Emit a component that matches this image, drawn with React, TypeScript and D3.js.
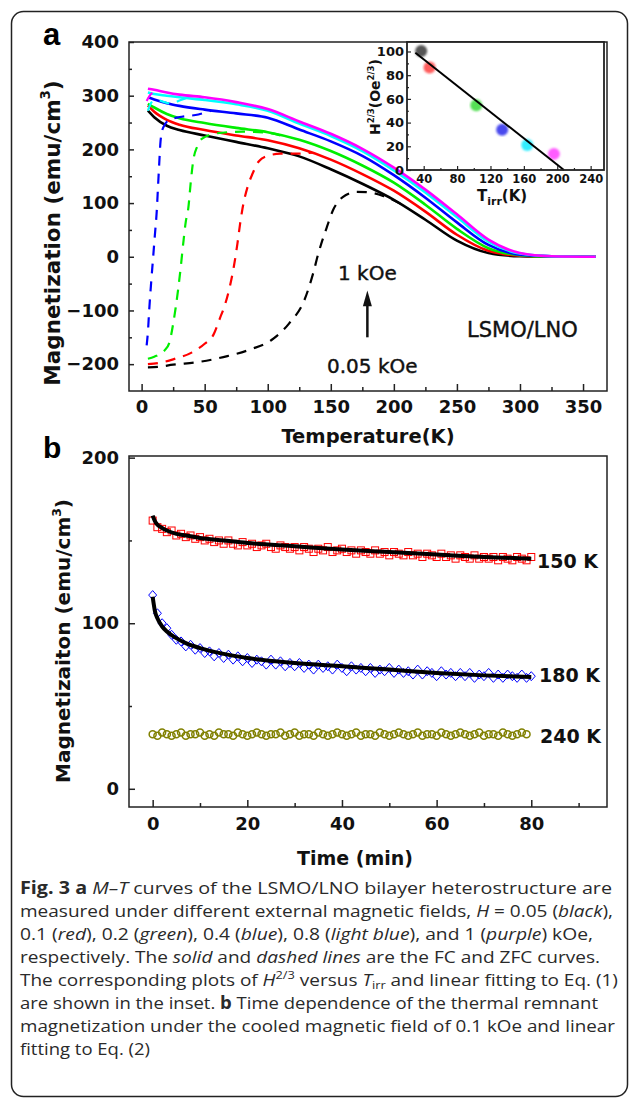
import React, { useEffect, useRef } from 'react';
import * as d3 from 'd3';

// ---------- panel a : M-T curves ----------
// FC curves (solid) on a common temperature grid (K), magnetization in emu/cm3
const fcTemp = [5, 10, 20, 30, 50, 75, 100, 125, 150, 175, 200, 225, 250, 275, 300, 325, 360];
const fcBlack = [272, 260, 244, 236, 226, 214, 202, 187, 163, 136, 106, 69, 30, 7, 1, 0, 0];
const fcRed = [282, 270, 255, 246, 236, 226, 217, 202, 181, 154, 123, 84, 41, 11, 2, 0, 0];
const fcGreen = [285, 278, 266, 258, 249, 240, 232, 218, 197, 170, 138, 97, 52, 16, 3, 0, 0];
const fcBlue = [297, 293, 286, 281, 274, 267, 259, 237, 215, 188, 152, 110, 64, 22, 4, 1, 0];
const fcCyan = [306, 303, 300, 297, 292, 284, 272, 248, 225, 197, 161, 120, 74, 28, 6, 1, 0];
const fcMagenta = [313, 311, 306, 302, 297, 288, 275, 252, 229, 201, 166, 125, 79, 32, 7, 1, 0];

// ZFC curves (dashed)
const zfcBlackT = [5, 13, 25, 45, 68, 87, 103, 117, 129, 136, 140, 147, 152, 157, 162, 170, 180, 192, 205];
const zfcBlackM = [-206, -205, -201, -196, -185, -172, -155, -124, -81, -31, 5, 56, 88, 106, 115, 121, 120, 113, 99];
const zfcRedT = [5, 13, 25, 40, 50, 57, 62, 66, 70, 73, 76, 78, 80, 84, 88, 93, 100, 110, 125, 135];
const zfcRedM = [-200, -198, -191, -178, -162, -145, -115, -90, -55, -20, 25, 60, 90, 130, 155, 178, 188, 192, 192, 194];
const zfcGreenT = [5, 10, 18, 22, 25, 27, 29, 31, 33, 35, 37, 39, 41, 44, 48, 60, 80, 100, 110];
const zfcGreenM = [-190, -186, -175, -160, -125, -95, -60, -20, 25, 65, 90, 140, 180, 205, 220, 230, 233, 231, 226];
const zfcBlueT = [4, 5, 6, 7.5, 9, 10.5, 12, 13, 14, 15, 17, 22, 30, 45, 55];
const zfcBlueM = [-165, -140, -100, -50, -5, 40, 85, 130, 175, 215, 240, 255, 260, 265, 272];
const zfcCyanT = [5, 8, 12, 18, 24, 30, 36];
const zfcCyanM = [272, 288, 292, 288, 285, 291, 296];
const zfcMagentaT = [4, 7, 12];
const zfcMagentaM = [290, 302, 309];

// inset: H^(2/3) vs T_irr
const tIrr = [37, 47, 103, 134, 164, 196];
const h23 = [100.5, 86.4, 54.6, 34, 21, 13.6];
const insetColors = ['#555555', '#ff5c5c', '#55e055', '#4a4aee', '#33eeff', '#ff5cff'];
const fitLineT = [30, 208];
const fitLineH = [99, 0];

// ---------- panel b : M vs time ----------
const timeMin = d3.range(0, 81);
const m150 = [162, 158, 157, 155, 156, 153, 154, 152, 153, 151,
  152, 150, 151, 149, 150, 148, 150, 148, 147, 149,
  147, 148, 146, 147, 148, 146, 145, 147, 146, 145,
  146, 144, 146, 145, 143, 145, 144, 146, 143, 144,
  145, 143, 144, 142, 144, 143, 142, 144, 142, 143,
  141, 143, 142, 141, 143, 141, 142, 140, 142, 141,
  140, 142, 140, 141, 139, 141, 140, 139, 141, 139,
  140, 139, 140, 138, 140, 139, 138, 140, 139, 138, 140];
const m180 = [117, 106, 100, 97, 93, 90, 89, 86, 87, 84,
  85, 82, 83, 80, 82, 79, 81, 78, 80, 77,
  79, 76, 78, 77, 75, 78, 75, 77, 74, 76,
  74, 76, 73, 75, 72, 75, 73, 74, 72, 75,
  73, 71, 74, 72, 73, 71, 73, 70, 72, 71,
  73, 70, 72, 70, 71, 69, 72, 69, 71, 70,
  68, 71, 69, 70, 68, 70, 68, 70, 67, 69,
  68, 70, 67, 69, 67, 69, 68, 67, 69, 67, 68];
const m240 = [33, 32, 34, 33, 32, 33, 34, 32, 33, 33,
  34, 32, 33, 32, 34, 33, 33, 32, 34, 33,
  32, 33, 34, 33, 32, 33, 33, 34, 32, 33,
  34, 32, 33, 33, 32, 34, 33, 32, 33, 34,
  33, 32, 33, 34, 32, 33, 33, 32, 34, 33,
  32, 33, 34, 33, 32, 33, 34, 32, 33, 33,
  32, 34, 33, 32, 33, 34, 33, 32, 33, 34,
  32, 33, 33, 32, 34, 33, 32, 33, 34, 33];
const fitTime = [0, 0.5, 1, 2, 3, 5, 7, 10, 15, 20, 30, 40, 50, 60, 70, 80];
const fit150 = [165, 161.5, 159.5, 157.5, 156, 154, 153, 151.5, 150, 148.5, 146.5, 144.5, 143, 141.5, 140, 139];
const fit180 = [116, 107, 103, 98, 95, 91, 88, 85, 81.5, 79, 76, 74, 72, 70, 68.5, 67.5];

// caption lines: [text, style]
const captionLines: [string, string][][] = [
  [['Fig. 3', 'b'], [' ', ''], ['a', 'b'], [' ', ''], ['M–T', 'i'], [' curves of the LSMO/LNO bilayer heterostructure are', '']],
  [['measured under different external magnetic fields, ', ''], ['H', 'i'], [' = 0.05 (', ''], ['black', 'i'], ['),', '']],
  [['0.1 (', ''], ['red', 'i'], ['), 0.2 (', ''], ['green', 'i'], ['), 0.4 (', ''], ['blue', 'i'], ['), 0.8 (', ''], ['light blue', 'i'], ['), and 1 (', ''], ['purple', 'i'], [') kOe,', '']],
  [['respectively. The ', ''], ['solid', 'i'], [' and ', ''], ['dashed lines', 'i'], [' are the FC and ZFC curves.', '']],
  [['The corresponding plots of ', ''], ['H', 'i'], ['2/3', 'sup'], [' versus ', ''], ['T', 'i'], ['irr', 'sub'], [' and linear fitting to Eq. (1)', '']],
  [['are shown in the inset. ', ''], ['b', 'b'], [' Time dependence of the thermal remnant', '']],
  [['magnetization under the cooled magnetic field of 0.1 kOe and linear', '']],
  [['fitting to Eq. (2)', '']],
];
const captionEnds = [612, 613, 593, 600, 618, 598, 615, 150];

const App = () => {
  const svgRef = useRef<SVGSVGElement>(null);

  useEffect(() => {
    const svg = d3.select(svgRef.current);
    svg.selectAll('*').remove();
    const sans = 'DejaVu Sans, sans-serif';
    const ink = '#222';

    svg.append('rect').attr('width', 636).attr('height', 1102).attr('fill', '#fff');
    svg.append('rect')
      .attr('x', 11.5).attr('y', 11.5).attr('width', 616).attr('height', 1085).attr('rx', 12)
      .attr('fill', 'none').attr('stroke', ink).attr('stroke-width', 1.5);

    const styleAxis = (g: any, size: number) => {
      g.select('.domain').remove();
      g.selectAll('line').attr('stroke', ink).attr('stroke-width', 1.5);
      g.selectAll('text').attr('fill', '#111').attr('font-family', sans)
        .attr('font-weight', 'bold').attr('font-size', size);
    };
    const addAxis = (axis: any, tr: string, size: number) => {
      const g = svg.append('g').attr('transform', tr).call(axis);
      styleAxis(g, size);
      return g;
    };
    const frame = (x0: number, y0: number, x1: number, y1: number) =>
      svg.append('rect').attr('x', x0).attr('y', y0).attr('width', x1 - x0).attr('height', y1 - y0)
        .attr('fill', 'none').attr('stroke', ink).attr('stroke-width', 1.5);

    // ----- panel a -----
    const xA = d3.scaleLinear().domain([-10, 369]).range([129, 607]);
    const yA = d3.scaleLinear().domain([-250, 400]).range([391, 42]);
    const lineA = d3.line<[number, number]>().x((d) => xA(d[0])).y((d) => yA(d[1])).curve(d3.curveMonotoneX);

    const series = [
      { c: '#000000', fc: fcBlack, zt: zfcBlackT, zm: zfcBlackM },
      { c: '#ff0000', fc: fcRed, zt: zfcRedT, zm: zfcRedM },
      { c: '#00ee00', fc: fcGreen, zt: zfcGreenT, zm: zfcGreenM },
      { c: '#0000ff', fc: fcBlue, zt: zfcBlueT, zm: zfcBlueM },
      { c: '#00ffff', fc: fcCyan, zt: zfcCyanT, zm: zfcCyanM },
      { c: '#ff00ff', fc: fcMagenta, zt: zfcMagentaT, zm: zfcMagentaM },
    ];
    const curves = svg.append('g');
    series.forEach((s) => {
      curves.append('path').attr('d', lineA(d3.zip(s.zt, s.zm) as any))
        .attr('fill', 'none').attr('stroke', s.c).attr('stroke-width', 2.2).attr('stroke-dasharray', '10 8');
      curves.append('path').attr('d', lineA(d3.zip(fcTemp, s.fc) as any))
        .attr('fill', 'none').attr('stroke', s.c).attr('stroke-width', 2.6);
    });

    addAxis(d3.axisLeft(yA).tickValues([-200, -100, 0, 100, 200, 300, 400]).tickSize(-5).tickPadding(10), 'translate(129,0)', 18);
    addAxis(d3.axisLeft(yA).tickValues([-150, -50, 50, 150, 250, 350]).tickSize(-3).tickFormat(() => ''), 'translate(129,0)', 18);
    addAxis(d3.axisBottom(xA).tickValues(d3.range(0, 351, 50)).tickSize(-7).tickPadding(9), 'translate(0,391)', 18);
    addAxis(d3.axisBottom(xA).tickValues(d3.range(25, 351, 50)).tickSize(-4).tickFormat(() => ''), 'translate(0,391)', 18);
    frame(129, 42, 607, 391);

    // annotations
    const note = (txt: string, x: number, y: number, size: number, weight = 'normal') =>
      svg.append('text').attr('x', x).attr('y', y).attr('font-family', sans).attr('font-size', size)
        .attr('font-weight', weight).attr('fill', '#111').text(txt);
    note('1 kOe', 338, 280, 20).attr('stroke', '#111').attr('stroke-width', 0.4);
    note('0.05 kOe', 327, 373, 20).attr('stroke', '#111').attr('stroke-width', 0.4);
    note('LSMO/LNO', 467, 337, 21).attr('stroke', '#111').attr('stroke-width', 0.4);
    const ax = xA(179);
    svg.append('line').attr('x1', ax).attr('x2', ax).attr('y1', yA(-150)).attr('y2', yA(-80))
      .attr('stroke', '#111').attr('stroke-width', 2.5);
    svg.append('path')
      .attr('d', `M${ax},${yA(-63)} L${ax - 4.5},${yA(-92)} L${ax + 4.5},${yA(-92)} Z`).attr('fill', '#111');

    // titles
    svg.append('text').attr('x', 43).attr('y', 45).attr('font-family', 'Liberation Sans, Arial')
      .attr('font-weight', 'bold').attr('font-size', 31).text('a');
    const yTitle = (x: number, y: number, size: number, label: string) => {
      const t = svg.append('text').attr('transform', `translate(${x},${y}) rotate(-90)`)
        .attr('text-anchor', 'middle').attr('font-family', sans).attr('font-weight', 'bold')
        .attr('font-size', size).attr('fill', '#111');
      t.append('tspan').text(label);
      t.append('tspan').attr('dy', -size * 0.45).attr('font-size', size * 0.62).text('3');
      t.append('tspan').attr('dy', size * 0.45).text(')');
    };
    yTitle(60, 233, 21.5, 'Magnetization (emu/cm');
    svg.append('text').attr('x', 368).attr('y', 443).attr('text-anchor', 'middle').attr('font-family', sans)
      .attr('font-weight', 'bold').attr('font-size', 19.5).attr('fill', '#111').text('Temperature(K)');

    // ----- inset -----
    const xI = d3.scaleLinear().domain([20, 256]).range([407, 604]);
    const yI = d3.scaleLinear().domain([0, 108]).range([170, 42]);
    svg.append('rect').attr('x', 407).attr('y', 42).attr('width', 197).attr('height', 128).attr('fill', '#fff');
    const blur = svg.append('defs').append('filter').attr('id', 'soft');
    blur.append('feGaussianBlur').attr('stdDeviation', 0.9);
    svg.append('g').selectAll('circle').data(d3.range(tIrr.length)).join('circle')
      .attr('cx', (i) => xI(tIrr[i])).attr('cy', (i) => yI(h23[i])).attr('r', 6)
      .attr('fill', (i) => insetColors[i]).attr('filter', 'url(#soft)');
    svg.append('line').attr('x1', xI(fitLineT[0])).attr('y1', yI(fitLineH[0]))
      .attr('x2', xI(fitLineT[1])).attr('y2', yI(fitLineH[1])).attr('stroke', '#000').attr('stroke-width', 2);
    const iy = addAxis(d3.axisLeft(yI).tickValues(d3.range(0, 101, 20)).tickSize(-4).tickPadding(3), 'translate(407,0)', 13);
    iy.selectAll('line').attr('stroke-width', 1.2);
    const iym = addAxis(d3.axisLeft(yI).tickValues(d3.range(10, 100, 20)).tickSize(-2).tickFormat(() => ''), 'translate(407,0)', 13);
    iym.selectAll('line').attr('stroke-width', 1.2);
    const ix = addAxis(d3.axisBottom(xI).tickValues(d3.range(40, 241, 40)).tickSize(-4).tickPadding(5), 'translate(0,170)', 11.5);
    ix.selectAll('line').attr('stroke-width', 1.2);
    const ixm = addAxis(d3.axisBottom(xI).tickValues(d3.range(60, 241, 40)).tickSize(-2).tickFormat(() => ''), 'translate(0,170)', 11.5);
    ixm.selectAll('line').attr('stroke-width', 1.2);
    frame(407, 42, 604, 170).attr('stroke-width', 1.8);
    const it = svg.append('text').attr('x', 477).attr('y', 201).attr('font-family', sans)
      .attr('font-weight', 'bold').attr('font-size', 15).attr('fill', '#111');
    it.append('tspan').text('T');
    it.append('tspan').attr('dy', 4).attr('font-size', 11).text('irr');
    it.append('tspan').attr('dy', -4).text('(K)');
    const iyt = svg.append('text').attr('transform', 'translate(380,97) rotate(-90)').attr('text-anchor', 'middle')
      .attr('font-family', sans).attr('font-weight', 'bold').attr('font-size', 14).attr('fill', '#111');
    iyt.append('tspan').text('H');
    iyt.append('tspan').attr('dy', -6).attr('font-size', 8.5).text('2/3');
    iyt.append('tspan').attr('dy', 6).text('(Oe');
    iyt.append('tspan').attr('dy', -6).attr('font-size', 8.5).text('2/3');
    iyt.append('tspan').attr('dy', 6).text(')');

    // ----- panel b -----
    const xB = d3.scaleLinear().domain([-5, 96]).range([129, 607]);
    const yB = d3.scaleLinear().domain([-11, 201]).range([807, 456]);
    const lineB = d3.line<[number, number]>().x((d) => xB(d[0])).y((d) => yB(d[1])).curve(d3.curveMonotoneX);
    const gb = svg.append('g');
    gb.selectAll('rect.sq').data(m150).join('rect').attr('class', 'sq')
      .attr('x', (d, i) => xB(timeMin[i]) - 3.5).attr('y', (d) => yB(d) - 3.5)
      .attr('width', 7).attr('height', 7).attr('fill', 'none').attr('stroke', '#ff0000').attr('stroke-width', 1);
    gb.selectAll('path.dm').data(m180).join('path').attr('class', 'dm')
      .attr('d', (d, i) => {
        const x = xB(timeMin[i]);
        const y = yB(d);
        return `M${x},${y - 4.5}L${x + 4},${y}L${x},${y + 4.5}L${x - 4},${y}Z`;
      })
      .attr('fill', 'none').attr('stroke', '#0000ff').attr('stroke-width', 1);
    gb.selectAll('circle.ci').data(m240).join('circle').attr('class', 'ci')
      .attr('cx', (d, i) => xB(timeMin[i])).attr('cy', (d) => yB(d)).attr('r', 3.5)
      .attr('fill', 'none').attr('stroke', '#808000').attr('stroke-width', 1.5);
    gb.append('path').attr('d', lineB(d3.zip(fitTime, fit150) as any)).attr('fill', 'none')
      .attr('stroke', '#000').attr('stroke-width', 4);
    gb.append('path').attr('d', lineB(d3.zip(fitTime, fit180) as any)).attr('fill', 'none')
      .attr('stroke', '#000').attr('stroke-width', 4);

    addAxis(d3.axisLeft(yB).tickValues([0, 100, 200]).tickSize(-6).tickPadding(10), 'translate(129,0)', 18);
    addAxis(d3.axisLeft(yB).tickValues([50, 150]).tickSize(-3).tickFormat(() => ''), 'translate(129,0)', 18);
    addAxis(d3.axisBottom(xB).tickValues(d3.range(0, 81, 20)).tickSize(-7).tickPadding(10), 'translate(0,807)', 18);
    addAxis(d3.axisBottom(xB).tickValues(d3.range(10, 91, 20)).tickSize(-4).tickFormat(() => ''), 'translate(0,807)', 18);
    frame(129, 456, 607, 807);

    note('150 K', 537, 568, 19, 'bold');
    note('180 K', 539, 682, 19, 'bold');
    note('240 K', 540, 743, 19, 'bold');
    svg.append('text').attr('x', 43).attr('y', 458).attr('font-family', 'Liberation Sans, Arial')
      .attr('font-weight', 'bold').attr('font-size', 30).text('b');
    yTitle(70, 641, 20, 'Magnetizaiton (emu/cm');
    svg.append('text').attr('x', 355).attr('y', 865).attr('text-anchor', 'middle').attr('font-family', sans)
      .attr('font-weight', 'bold').attr('font-size', 19).attr('fill', '#111').text('Time (min)');

    // ----- caption -----
    captionLines.forEach((segs, li) => {
      const t = svg.append('text').attr('x', 20).attr('y', 894 + li * 23)
        .attr('font-family', 'Open Sans, sans-serif').attr('font-size', 17).attr('fill', '#2a2a2a')
        .attr('textLength', captionEnds[li] - 20).attr('lengthAdjust', 'spacingAndGlyphs');
      let shift = 0;
      segs.forEach(([txt, st]) => {
        const sp = t.append('tspan').text(txt);
        let target = 0;
        if (st === 'b') sp.attr('font-weight', 'bold');
        if (st === 'i') sp.attr('font-style', 'italic');
        if (st === 'sup') { sp.attr('font-size', 11.5); target = -7; }
        if (st === 'sub') { sp.attr('font-size', 11.5); target = 3; }
        if (target !== shift) { sp.attr('dy', target - shift); shift = target; }
      });
    });
  }, []);

  return (
    <svg ref={svgRef} width={636} height={1102}
      style={{ position: 'absolute', left: 0, top: 0, display: 'block' }} />
  );
};

export default App;
